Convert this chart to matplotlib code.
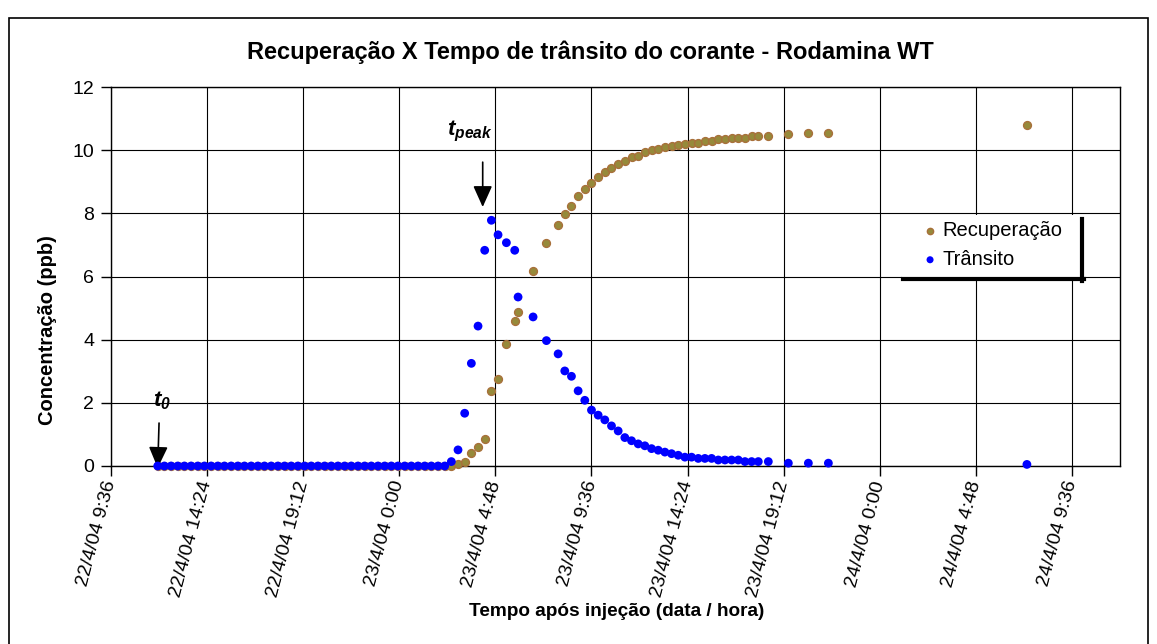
import matplotlib
matplotlib.use("Agg")
import matplotlib.pyplot as plt
from matplotlib.patches import Rectangle
from matplotlib.lines import Line2D
from datetime import datetime, timedelta

plt.rcParams["font.family"] = ["Liberation Sans", "DejaVu Sans"]
plt.rcParams["mathtext.fontset"] = "custom"
plt.rcParams["mathtext.rm"] = "Liberation Sans"
plt.rcParams["mathtext.it"] = "Liberation Sans:italic"
plt.rcParams["mathtext.bf"] = "Liberation Sans:bold"
plt.rcParams["mathtext.bfit"] = "Liberation Sans:italic:bold"

# injeção do corante
t0 = datetime(2004, 4, 22, 11, 56)

# minutos após a injeção
minutos = [
    0, 20, 40, 60, 80, 100, 120, 140, 160, 180, 200, 220, 240, 260, 280,
    300, 320, 340, 360, 380, 400, 420, 440, 460, 480, 500, 520, 540, 560,
    580, 600, 620, 640, 660, 680, 700, 720, 740, 760, 780, 800, 820, 840, 860,
    880, 900, 920, 940, 960, 980, 1000, 1020, 1045, 1070, 1080, 1125, 1165,
    1200, 1220, 1240, 1260, 1280, 1300, 1320, 1340, 1360, 1380, 1400, 1420,
    1440, 1460, 1480, 1500, 1520, 1540, 1560, 1580, 1600, 1620, 1640, 1660,
    1680, 1700, 1720, 1740, 1760, 1780, 1800, 1830, 1890, 1950, 2010, 2605,
]

# concentração de trânsito (ppb)
transito = [
    0, 0, 0, 0, 0, 0, 0, 0, 0, 0, 0, 0, 0, 0, 0,
    0, 0, 0, 0, 0, 0, 0, 0, 0, 0, 0, 0, 0, 0,
    0, 0, 0, 0, 0, 0, 0, 0, 0, 0, 0, 0, 0, 0, 0,
    0.14, 0.51, 1.67, 3.25, 4.43, 6.83, 7.78, 7.32, 7.07, 6.83, 5.35, 4.72,
    3.97, 3.55, 3.01, 2.84, 2.38, 2.08, 1.77, 1.61, 1.46, 1.27, 1.11, 0.90,
    0.80, 0.70, 0.64, 0.55, 0.50, 0.44, 0.39, 0.34, 0.28, 0.28, 0.24, 0.24,
    0.24, 0.19, 0.19, 0.19, 0.19, 0.14, 0.14, 0.14, 0.14, 0.09, 0.09, 0.09,
    0.05,
]

# recuperação acumulada (ppb)
recuperacao = [
    0, 0, 0, 0, 0, 0, 0, 0, 0, 0, 0, 0, 0, 0, 0,
    0, 0, 0, 0, 0, 0, 0, 0, 0, 0, 0, 0, 0, 0,
    0, 0, 0, 0, 0, 0, 0, 0, 0, 0, 0, 0, 0, 0, 0,
    0.00, 0.05, 0.14, 0.40, 0.61, 0.85, 2.38, 2.74, 3.86, 4.58, 4.87, 6.16,
    7.07, 7.64, 7.98, 8.24, 8.55, 8.76, 8.96, 9.16, 9.32, 9.42, 9.56, 9.67,
    9.77, 9.83, 9.93, 9.99, 10.04, 10.09, 10.14, 10.15, 10.20, 10.23, 10.24,
    10.29, 10.28, 10.34, 10.34, 10.39, 10.39, 10.39, 10.44, 10.44, 10.44,
    10.50, 10.54, 10.54, 10.79,
]

tempos = [t0 + timedelta(minutes=m) for m in minutos]

W, H = 1157, 644
fig = plt.figure(figsize=(W / 100, H / 100), dpi=100)
ax = fig.add_axes([111 / W, 1 - 466 / H, (1120 - 111) / W, (466 - 87) / H])

ax.scatter(tempos, recuperacao, s=32, c="#968A3A", edgecolors="#A8703A",
           linewidths=1.0, zorder=3, clip_on=False, label="Recuperação")
ax.scatter(tempos, transito, s=40, c="#0000FF", edgecolors="none",
           zorder=4, clip_on=False, label="Trânsito")

x_ini = datetime(2004, 4, 22, 9, 36)
ax.set_xlim(x_ini, datetime(2004, 4, 24, 12, 0))
ax.set_ylim(0, 12)
ax.set_yticks(range(0, 13, 2))

ticks = [x_ini + timedelta(minutes=288 * k) for k in range(11)]
rotulos = [f"{d.day}/{d.month}/{d:%y} {d.hour}:{d:%M}" for d in ticks]
ax.set_xticks(ticks)
ax.set_xticklabels(rotulos, rotation=75, ha="right", va="center",
                   rotation_mode="anchor")

ax.tick_params(axis="both", direction="out", length=7, width=1,
               labelsize=14, color="black")
ax.tick_params(axis="x", pad=4)
ax.tick_params(axis="y", pad=5)
ax.grid(True, color="black", lw=0.8)
ax.set_axisbelow(True)
for s in ax.spines.values():
    s.set_linewidth(1.0)

# setas t0 e tpeak
seta = dict(arrowstyle="-|>,head_length=1.0,head_width=0.45",
            mutation_scale=13, color="black", lw=1.2, shrinkA=0, shrinkB=0)
ax.annotate("", xy=(t0, -0.06), xytext=(t0 + timedelta(minutes=4), 1.36),
            arrowprops=seta, annotation_clip=False)
ax.text(t0 - timedelta(minutes=14), 1.88, r"$\mathbfit{t}_{\mathbfit{0}}$",
        fontsize=16, ha="left", va="baseline")

t_pico = tempos[transito.index(max(transito))]
ax.annotate("", xy=(t_pico - timedelta(minutes=26), 8.2),
            xytext=(t_pico - timedelta(minutes=26), 9.62),
            arrowprops=seta, annotation_clip=False)
ax.text(t_pico - timedelta(minutes=133), 10.47,
        r"$\mathbfit{t}_{\mathbfit{peak}}$",
        fontsize=16, ha="left", va="baseline")

# legenda com sombra
fig.add_artist(Rectangle((902 / W, 1 - 277 / H), (1080 - 902) / W,
                         (277 - 215) / H, transform=fig.transFigure,
                         facecolor="white", edgecolor="none", zorder=2))
fig.add_artist(Line2D([1082 / W, 1082 / W], [1 - 219 / H, 1 - 281 / H],
                      transform=fig.transFigure, color="black", lw=3, zorder=3))
fig.add_artist(Line2D([903 / W, 1084 / W], [1 - 279 / H, 1 - 279 / H],
                      transform=fig.transFigure, color="black", lw=3, zorder=3))
h, l = ax.get_legend_handles_labels()
fig.legend(h, l, loc="center left", bbox_to_anchor=(922 / W, 1 - 245 / H),
           frameon=False, fontsize=14.5, handlelength=0.8, handletextpad=0.2,
           labelspacing=0.5, borderpad=0, borderaxespad=0, markerscale=0.8)

fig.text(590 / W, 1 - 52 / H,
         "Recuperação X Tempo de trânsito do corante - Rodamina WT",
         ha="center", va="center", fontsize=17, fontweight="bold")
fig.text(48 / W, 1 - 330 / H, "Concentração (ppb)", rotation=90,
         ha="center", va="center", fontsize=14.5, fontweight="bold")
fig.text(617 / W, 1 - 611 / H, "Tempo após injeção (data / hora)",
         ha="center", va="center", fontsize=13.7, fontweight="bold")

# moldura do gráfico
fig.add_artist(Rectangle((9 / W, -0.05), (1148 - 9) / W, 1.05 - 18 / H,
                         transform=fig.transFigure, facecolor="none",
                         edgecolor="black", lw=1.2))

fig.savefig("out.png", dpi=100)
